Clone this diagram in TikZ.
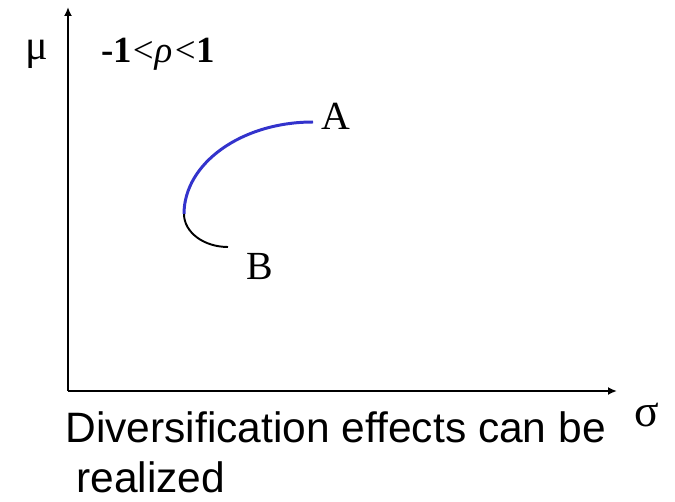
\documentclass[tikz,border=0pt]{standalone}
\usepackage{fontspec}
\setmainfont{Liberation Serif}
\newfontfamily\arialfont{Liberation Sans}
\usetikzlibrary{arrows.meta, positioning}
\definecolor{frontierblue}{RGB}{51,51,204}

\begin{document}
\begin{tikzpicture}[
    % Define standard styles for the diagram components
    x=0.02cm, y=0.02cm,
    axis/.style={
        -{Latex[length=1.8mm, width=1.6mm]},
        line width=1.1pt,
        draw=black
    },
    frontier/.style={
        line width=1.7pt,
        draw=frontierblue
    },
    tail/.style={
        line width=1.1pt,
        draw=black
    },
    axislabel/.style={
        inner sep=0pt,
        font=\fontsize{24}{26}\selectfont
    },
    ptlabel/.style={
        inner sep=0pt,
        font=\fontsize{22.7}{26}\selectfont
    },
    caption/.style={
        inner sep=0pt,
        anchor=base west,
        font=\arialfont\fontsize{24.2}{28}\selectfont
    }
]
\useasboundingbox (0,0) rectangle (675,501);

% --- Axes ---
\coordinate (origin) at (68,110);
\coordinate (ytip) at (68,494);
\coordinate (xtip) at (617,110);
\draw[axis] (origin) -- (ytip);
\draw[axis] (origin) -- (xtip);

\node[axislabel] (mu) at (37,447) {μ};
\node[axislabel, font=\fontsize{26}{28}\selectfont] (sigma) at (647,86) {σ};

% Correlation range
\node[inner sep=0pt, anchor=base west, font=\fontsize{21}{24}\selectfont] (rho) at (101,438)
    {\textbf{-1}\kern0.5pt<\kern0.5pt\textit{ρ}\kern1.5pt<\kern0.5pt\textbf{1}};

% --- Curve ---
\coordinate (minvar) at (184,287);
\coordinate (ptA) at (313,379);
\coordinate (ptB) at (228,254);
\draw[frontier] (minvar) arc[start angle=180, end angle=90, x radius=129, y radius=92];
\draw[tail] (minvar) arc[start angle=180, end angle=270, x radius=44, y radius=33];

\node[ptlabel] (labA) at (336,385) {A};
\node[ptlabel] (labB) at (260,235) {B};

% --- Comment below the axis ---
\node[caption] (line1) at (65,59) {Diversification effects can be};
\node[caption] (line2) at (76,9) {realized};

\end{tikzpicture}
\end{document}
